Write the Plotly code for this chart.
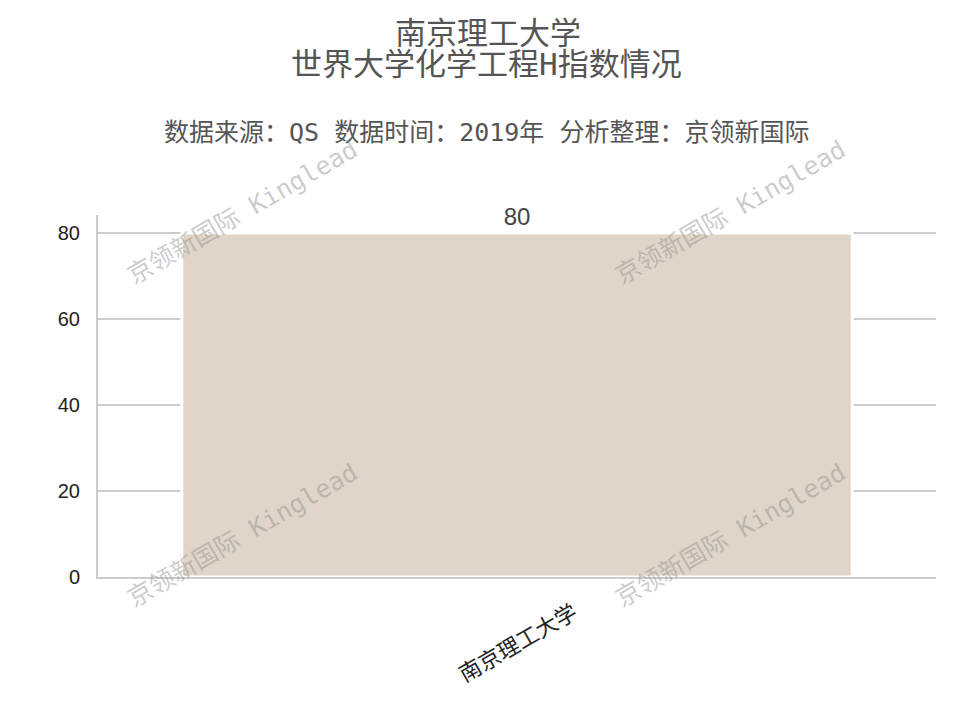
import plotly.graph_objects as go

# chart data
schools = ['南京理工大学']
h_index = [80]
y_ticks = [0, 20, 40, 60, 80]

title_line1 = '南京理工大学'
title_line2 = '世界大学化学工程H指数情况'
sub_text = '数据来源：QS 数据时间：2019年 分析整理：京领新国际'
mark_text = '京领新国际 Kinglead'

cjk = 'DejaVu Sans Mono, Noto Sans CJK SC, sans-serif'
num_font = 'Liberation Sans Narrow, Liberation Sans, sans-serif'

# page body has an 8px margin, so the figure is a bit smaller than the window
OFF = 8
W, H = 960, 704
L, R, T, B = 90, 32, 207, 135


def to_paper(px, py):
    # window pixels -> paper coords of the plot area
    fx, fy = px - OFF, py - OFF
    return (fx - L) / (W - L - R), (H - B - fy) / (H - T - B)


mid_x = to_paper(486, 0)[0]  # texts are centred on the whole image, not the plot

fig = go.Figure()
fig.add_trace(go.Bar(
    x=schools, y=h_index,
    marker=dict(color='#e0d5c8', line=dict(color='white', width=3)),
    text=[str(v) for v in h_index], textposition='outside',
    textfont=dict(family=num_font, size=24, color='#444444'),
    cliponaxis=False, width=0.8,
))

fig.update_layout(
    width=W, height=H,
    margin=dict(l=L, r=R, t=T, b=B),
    paper_bgcolor='white', plot_bgcolor='white',
    showlegend=False,
    title=dict(text=title_line1, x=0.5, xanchor='center', y=1 - (33 - OFF) / H, yanchor='middle',
               font=dict(family=cjk, size=31, color='#555555')),
)
fig.update_xaxes(range=[-0.5, 0.5], showticklabels=False, showgrid=False,
                 showline=True, linecolor='#cccccc', linewidth=2, ticks='')
fig.update_yaxes(range=[0, 84.2], tickvals=y_ticks, showgrid=True, gridcolor='#cccccc', gridwidth=1.5,
                 showline=True, linecolor='#cccccc', linewidth=2, ticks='', zeroline=False,
                 ticklabelstandoff=12,
                 tickfont=dict(family=num_font, size=20, color='#222222'))

# second title line and subtitle
fig.add_annotation(text=title_line2, xref='paper', yref='paper', x=mid_x, y=to_paper(0, 64)[1],
                   xanchor='center', yanchor='middle', showarrow=False,
                   font=dict(family=cjk, size=31, color='#555555'))
fig.add_annotation(text=sub_text, xref='paper', yref='paper', x=mid_x, y=to_paper(0, 132)[1],
                   xanchor='center', yanchor='middle', showarrow=False,
                   font=dict(family=cjk, size=25, color='#555555'))

# rotated category label
for s in schools:
    fig.add_annotation(text=s, x=s, xref='x', yref='paper', y=to_paper(0, 641)[1],
                       xanchor='center', yanchor='middle', textangle=-30, showarrow=False,
                       font=dict(family='Noto Sans CJK SC, sans-serif', size=22, color='#222222'))

# watermarks
for cx, cy in [(242, 212), (730, 212), (242, 535), (730, 535)]:
    ax, ay = to_paper(cx, cy)
    fig.add_annotation(text=mark_text, xref='paper', yref='paper', x=ax, y=ay,
                       xanchor='center', yanchor='middle', textangle=-30, showarrow=False,
                       font=dict(family=cjk, size=25, color='rgba(140,140,140,0.45)'))

fig.write_html('out.html')
